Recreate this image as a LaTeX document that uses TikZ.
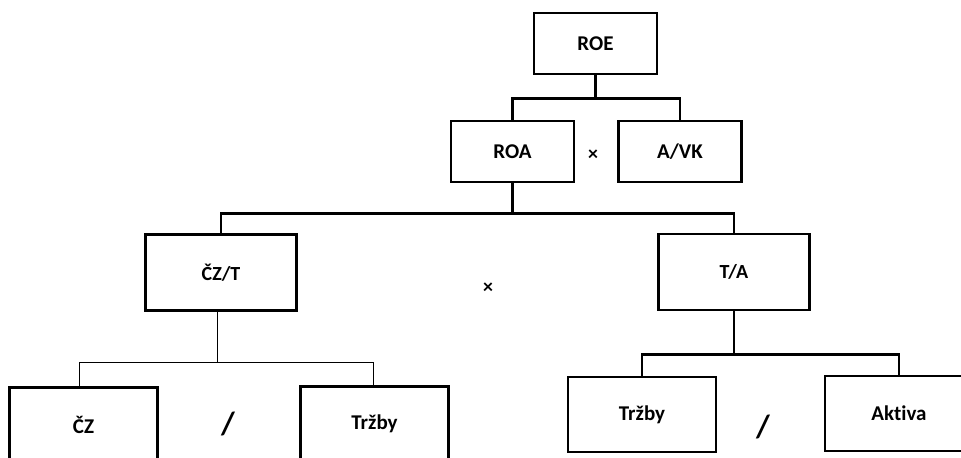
\documentclass[tikz,border=0pt]{standalone}
\usepackage{fontspec}
\setmainfont{Carlito}[Ligatures=CommonOff]
\usepackage{tikz}

\begin{document}
\begin{tikzpicture}[x=0.5pt,y=-0.5pt,
    box/.style={draw, line width=1.4pt, inner sep=0pt, font=\bfseries},
    top/.style={box, minimum width=61.5pt, minimum height=30.5pt, font=\bfseries\fontsize{10.5}{12}\selectfont},
    mid/.style={box, minimum width=75.5pt, minimum height=38pt, font=\bfseries\fontsize{10}{12}\selectfont},
    low/.style={box, minimum width=74pt, minimum height=37.5pt, font=\bfseries\fontsize{10.5}{12}\selectfont},
    sign/.style={inner sep=0pt, font=\bfseries\fontsize{10}{12}\selectfont},
    slash/.style={inner sep=0pt, font=\bfseries\fontsize{16}{18}\selectfont},
    conn/.style={line width=1.4pt},
    thinconn/.style={line width=0.5pt}]
    \fill[white] (0,0) rectangle (961,457);
    \path[use as bounding box, clip] (0,0) rectangle (961,457);
    % upper level
    \node [top] (roe) at (595.5,43.5) {ROE};
    \node [top] (roa) at (512.5,151.5) {ROA};
    \node [top] (avk) at (680,151.5) {A/VK};
    \node [sign] (x1) at (593,155) {×};
    % middle level
    \node [mid] (czt) at (221,272.5) {ČZ/T};
    \node [mid] (ta) at (734,272) {T/A};
    \node [sign] (x2) at (488,288) {×};
    % lower level
    \node [low] (cz) at (83.5,425) {ČZ};
    \node [slash] (s1) at (228,424) {/};
    \node [low] (trz1) at (374.5,424) {Tržby};
    \node [low] (trz2) at (642,414.5) {Tržby};
    \node [slash] (s2) at (763,427) {/};
    \node [low] (akt) at (899,413.5) {Aktiva};
    % connectors
    \draw [conn] (roe.south) -- ++(0,23) -| (roa.north);
    \draw [conn] (roe.south) ++(0,23) -| (avk.north);
    \draw [conn] (roa.south) -- ++(0,30) -| (czt.north);
    \draw [conn] (roa.south) ++(0,30) -| (ta.north);
    \draw [thinconn] ([xshift=-2pt]czt.south) -- ++(0,51) -| ([xshift=-2pt]cz.north);
    \draw [thinconn] ([xshift=-2pt]czt.south) ++(0,51) -| ([xshift=-0.75pt]trz1.north);
    \draw [conn] (ta.south) -- ++(0,43) -| (trz2.north);
    \draw [conn] (ta.south) ++(0,43) -| (akt.north);
\end{tikzpicture}
\end{document}
